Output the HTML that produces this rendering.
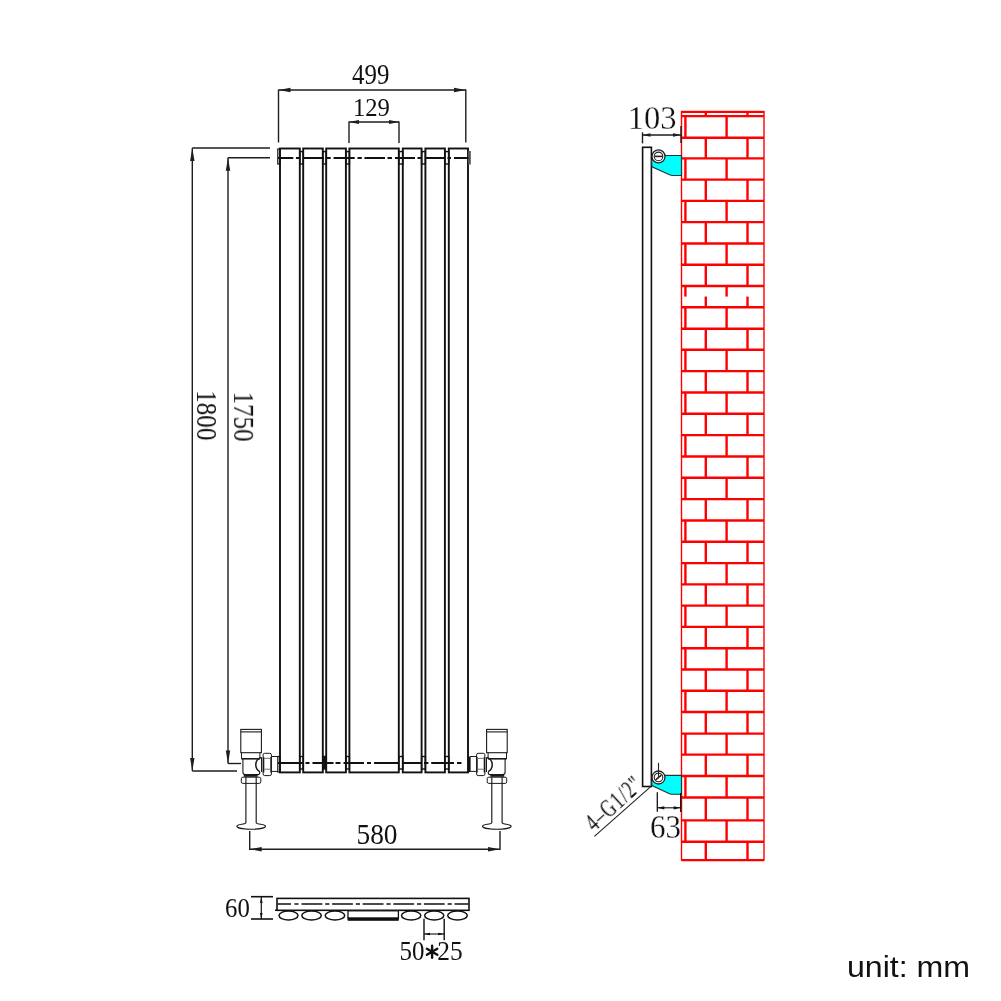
<!DOCTYPE html>
<html><head><meta charset="utf-8"><style>
html,body{margin:0;padding:0;background:#fff;width:1001px;height:1001px;overflow:hidden}
svg{display:block}
text{will-change:transform}
</style></head><body>
<svg width="1001" height="1001" viewBox="0 0 1001 1001">
<line x1="278.5" y1="90" x2="466" y2="90" stroke="#1e1e1e" stroke-width="1.4" />
<polygon points="278.5,90 290.50,87.80 290.50,92.20" fill="#1e1e1e"/>
<polygon points="466,90 454.00,92.20 454.00,87.80" fill="#1e1e1e"/>
<line x1="278.5" y1="89.5" x2="278.5" y2="142.5" stroke="#1e1e1e" stroke-width="1.4" />
<line x1="465.8" y1="89.5" x2="465.8" y2="142.5" stroke="#1e1e1e" stroke-width="1.4" />
<text transform="translate(352.10,83.90) scale(0.8698,1)" font-family="Liberation Serif" font-size="28.67" fill="#111">499</text>
<line x1="349" y1="122" x2="399" y2="122" stroke="#1e1e1e" stroke-width="1.4" />
<polygon points="349,122 359.00,120.00 359.00,124.00" fill="#1e1e1e"/>
<polygon points="399,122 389.00,124.00 389.00,120.00" fill="#1e1e1e"/>
<line x1="349" y1="121.5" x2="349" y2="143" stroke="#1e1e1e" stroke-width="1.4" />
<line x1="399" y1="121.5" x2="399" y2="143" stroke="#1e1e1e" stroke-width="1.4" />
<text transform="translate(353.00,116.20) scale(0.9511,1)" font-family="Liberation Serif" font-size="25.91" fill="#111">129</text>
<line x1="192.3" y1="148" x2="270" y2="148" stroke="#1e1e1e" stroke-width="1.4" />
<line x1="192.3" y1="148" x2="192.3" y2="771" stroke="#1e1e1e" stroke-width="1.4" />
<line x1="192.3" y1="771" x2="237" y2="771" stroke="#1e1e1e" stroke-width="1.4" />
<polygon points="192.3,148 194.50,161.00 190.10,161.00" fill="#1e1e1e"/>
<polygon points="192.3,771 190.10,758.00 194.50,758.00" fill="#1e1e1e"/>
<text transform="translate(197.00,390.20) rotate(90) scale(0.8685,1)" font-family="Liberation Serif" font-size="28.94" fill="#111">1800</text>
<line x1="228" y1="157.8" x2="270" y2="157.8" stroke="#1e1e1e" stroke-width="1.4" />
<line x1="228" y1="157.8" x2="228" y2="763.5" stroke="#1e1e1e" stroke-width="1.4" />
<line x1="228" y1="763.5" x2="241" y2="763.5" stroke="#1e1e1e" stroke-width="1.4" />
<polygon points="228,157.8 230.20,170.80 225.80,170.80" fill="#1e1e1e"/>
<polygon points="228,763.5 225.80,750.50 230.20,750.50" fill="#1e1e1e"/>
<text transform="translate(234.10,391.60) rotate(90) scale(0.8777,1)" font-family="Liberation Serif" font-size="28.55" fill="#111">1750</text>
<rect x="280" y="148.5" width="19.80000000000001" height="623.9" fill="none" stroke="#111" stroke-width="1.9"/>
<rect x="303.2" y="148.5" width="19.600000000000023" height="623.9" fill="none" stroke="#111" stroke-width="1.9"/>
<rect x="326.2" y="148.5" width="19.69999999999999" height="623.9" fill="none" stroke="#111" stroke-width="1.9"/>
<rect x="349.4" y="148.5" width="49.400000000000034" height="623.9" fill="none" stroke="#111" stroke-width="1.9"/>
<rect x="402.8" y="148.5" width="18.80000000000001" height="623.9" fill="none" stroke="#111" stroke-width="1.9"/>
<rect x="425.4" y="148.5" width="19.5" height="623.9" fill="none" stroke="#111" stroke-width="1.9"/>
<rect x="448.8" y="148.5" width="19.19999999999999" height="623.9" fill="none" stroke="#111" stroke-width="1.9"/>
<rect x="299.8" y="151.6" width="3.3999999999999773" height="12.400000000000006" fill="none" stroke="#111" stroke-width="1.4"/>
<rect x="299.8" y="756.5" width="3.3999999999999773" height="12.5" fill="none" stroke="#111" stroke-width="1.4"/>
<rect x="322.8" y="151.6" width="3.3999999999999773" height="12.400000000000006" fill="none" stroke="#111" stroke-width="1.4"/>
<rect x="322.8" y="756.5" width="3.3999999999999773" height="12.5" fill="none" stroke="#111" stroke-width="1.4"/>
<rect x="345.9" y="151.6" width="3.5" height="12.400000000000006" fill="none" stroke="#111" stroke-width="1.4"/>
<rect x="345.9" y="756.5" width="3.5" height="12.5" fill="none" stroke="#111" stroke-width="1.4"/>
<rect x="398.8" y="151.6" width="4.0" height="12.400000000000006" fill="none" stroke="#111" stroke-width="1.4"/>
<rect x="398.8" y="756.5" width="4.0" height="12.5" fill="none" stroke="#111" stroke-width="1.4"/>
<rect x="421.6" y="151.6" width="3.7999999999999545" height="12.400000000000006" fill="none" stroke="#111" stroke-width="1.4"/>
<rect x="421.6" y="756.5" width="3.7999999999999545" height="12.5" fill="none" stroke="#111" stroke-width="1.4"/>
<rect x="444.9" y="151.6" width="3.900000000000034" height="12.400000000000006" fill="none" stroke="#111" stroke-width="1.4"/>
<rect x="444.9" y="756.5" width="3.900000000000034" height="12.5" fill="none" stroke="#111" stroke-width="1.4"/>
<rect x="322.8" y="756.5" width="3.4" height="12.5" fill="#111"/>
<rect x="277.8" y="149" width="2.2" height="15" fill="none" stroke="#111" stroke-width="1.2"/>
<rect x="468" y="151" width="2.8" height="13.5" fill="#555"/>
<rect x="277.8" y="756.5" width="2.2" height="15.5" fill="none" stroke="#111" stroke-width="1.2"/>
<rect x="468" y="756.5" width="2.6" height="15.5" fill="#111"/>
<path d="M278,158H293.3 M295.9,158H300.3 M303,158H324 M326,158H330.7 M333.6,158H354.7 M357.5,158H361.8 M364.5,158H385 M387.5,158H392 M395,158H415 M417.5,158H421.5 M425,158H445 M447.5,158H451 M454,158H468.5" stroke="#111" stroke-width="1.9" fill="none"/>
<path d="M278,763H302.5 M305.5,763H309.5 M312.5,763H333.5 M335.5,763H340.5 M343.5,763H364 M367,763H371 M374,763H399 M403,763H421.6 M424,763H428.4 M431.2,763H454 M457,763H461.5" stroke="#111" stroke-width="1.9" fill="none"/>
<g transform="translate(251.2,0) scale(1,1)">
<rect x="-10.4" y="729.4" width="20.6" height="23.3" fill="#fff" stroke="#1a1a1a" stroke-width="1.1"/>
<line x1="-10.4" y1="731.9" x2="10.2" y2="731.9" stroke="#1a1a1a" stroke-width="1.1" />
<path d="M-9.7,752.7 L-9.7,758.8 M8.7,752.7 L8.7,758.8" stroke="#1a1a1a" stroke-width="1.0"/>
<line x1="-9.9" y1="758.8" x2="8.9" y2="758.8" stroke="#1a1a1a" stroke-width="1.6" />
<path d="M-8.3,758.8 L-8.3,772 Q-8.3,774.6 -6,774.6 L7,774.6 Q8.6,774.6 8.6,772" fill="none" stroke="#1a1a1a" stroke-width="1.1"/>
<path d="M9.8,757.4 C3.6,759.6 2.6,768.2 8.7,771.7" fill="none" stroke="#1a1a1a" stroke-width="1.5"/>
<line x1="10.3" y1="757.2" x2="10.3" y2="772" stroke="#1a1a1a" stroke-width="1.0" />
<rect x="-7.4" y="774.9" width="13.8" height="1.9" fill="#1a1a1a"/>
<rect x="-9.9" y="777.2" width="19.5" height="6.2" rx="1.6" fill="#fff" stroke="#1a1a1a" stroke-width="1.0"/>
<path d="M-5.3,777.2 L-5.3,822.6 Q-5.6,823.8 -9.5,824.3 Q-14.3,825 -14.3,826.2 A14.3,3.0 0 0 0 14.3,826.2 Q14.3,825 9.5,824.3 Q5.3,823.8 5.0,822.6 L5.0,777.2" fill="none" stroke="#1a1a1a" stroke-width="1.15"/>
<rect x="11.9" y="753.3" width="8.3" height="22.3" rx="1.6" fill="#fff" stroke="#1a1a1a" stroke-width="1.0"/>
<line x1="12.4" y1="757" x2="12.4" y2="772.5" stroke="#1a1a1a" stroke-width="1.4" />
<line x1="19.8" y1="757" x2="19.8" y2="772.5" stroke="#1a1a1a" stroke-width="1.4" />
<line x1="13" y1="758.4" x2="19.3" y2="758.4" stroke="#777" stroke-width="1.0" />
<line x1="13" y1="769.2" x2="19.3" y2="769.2" stroke="#777" stroke-width="1.0" />
<line x1="20.2" y1="756.5" x2="26.6" y2="756.5" stroke="#1a1a1a" stroke-width="1.0" />
<line x1="20.2" y1="771.4" x2="26.6" y2="771.4" stroke="#1a1a1a" stroke-width="1.0" />
</g>
<g transform="translate(496.8,0) scale(-1,1)">
<rect x="-10.4" y="729.4" width="20.6" height="23.3" fill="#fff" stroke="#1a1a1a" stroke-width="1.1"/>
<line x1="-10.4" y1="731.9" x2="10.2" y2="731.9" stroke="#1a1a1a" stroke-width="1.1" />
<path d="M-9.7,752.7 L-9.7,758.8 M8.7,752.7 L8.7,758.8" stroke="#1a1a1a" stroke-width="1.0"/>
<line x1="-9.9" y1="758.8" x2="8.9" y2="758.8" stroke="#1a1a1a" stroke-width="1.6" />
<path d="M-8.3,758.8 L-8.3,772 Q-8.3,774.6 -6,774.6 L7,774.6 Q8.6,774.6 8.6,772" fill="none" stroke="#1a1a1a" stroke-width="1.1"/>
<path d="M9.8,757.4 C3.6,759.6 2.6,768.2 8.7,771.7" fill="none" stroke="#1a1a1a" stroke-width="1.5"/>
<line x1="10.3" y1="757.2" x2="10.3" y2="772" stroke="#1a1a1a" stroke-width="1.0" />
<rect x="-7.4" y="774.9" width="13.8" height="1.9" fill="#1a1a1a"/>
<rect x="-9.9" y="777.2" width="19.5" height="6.2" rx="1.6" fill="#fff" stroke="#1a1a1a" stroke-width="1.0"/>
<path d="M-5.3,777.2 L-5.3,822.6 Q-5.6,823.8 -9.5,824.3 Q-14.3,825 -14.3,826.2 A14.3,3.0 0 0 0 14.3,826.2 Q14.3,825 9.5,824.3 Q5.3,823.8 5.0,822.6 L5.0,777.2" fill="none" stroke="#1a1a1a" stroke-width="1.15"/>
<rect x="11.9" y="753.3" width="8.3" height="22.3" rx="1.6" fill="#fff" stroke="#1a1a1a" stroke-width="1.0"/>
<line x1="12.4" y1="757" x2="12.4" y2="772.5" stroke="#1a1a1a" stroke-width="1.4" />
<line x1="19.8" y1="757" x2="19.8" y2="772.5" stroke="#1a1a1a" stroke-width="1.4" />
<line x1="13" y1="758.4" x2="19.3" y2="758.4" stroke="#777" stroke-width="1.0" />
<line x1="13" y1="769.2" x2="19.3" y2="769.2" stroke="#777" stroke-width="1.0" />
<line x1="20.2" y1="756.5" x2="26.6" y2="756.5" stroke="#1a1a1a" stroke-width="1.0" />
<line x1="20.2" y1="771.4" x2="26.6" y2="771.4" stroke="#1a1a1a" stroke-width="1.0" />
</g>
<line x1="249.7" y1="831" x2="249.7" y2="850" stroke="#1e1e1e" stroke-width="1.4" />
<line x1="500" y1="831" x2="500" y2="850" stroke="#1e1e1e" stroke-width="1.4" />
<line x1="249.7" y1="849.2" x2="500" y2="849.2" stroke="#1e1e1e" stroke-width="1.4" />
<polygon points="249.7,849.2 261.70,847.00 261.70,851.40" fill="#1e1e1e"/>
<polygon points="500,849.2 488.00,851.40 488.00,847.00" fill="#1e1e1e"/>
<text transform="translate(356.50,844.00) scale(0.9185,1)" font-family="Liberation Serif" font-size="29.78" fill="#111">580</text>
<line x1="251" y1="896.7" x2="273" y2="896.7" stroke="#111" stroke-width="1.6" />
<line x1="251" y1="919" x2="273" y2="919" stroke="#111" stroke-width="1.6" />
<line x1="261.3" y1="897" x2="261.3" y2="919" stroke="#111" stroke-width="1.2" />
<polygon points="261.3,897 262.60,903.00 260.00,903.00" fill="#111"/>
<polygon points="261.3,919 260.00,913.00 262.60,913.00" fill="#111"/>
<text transform="translate(225.00,917.40) scale(0.8739,1)" font-family="Liberation Serif" font-size="28.34" fill="#111">60</text>
<rect x="277" y="898.4" width="192" height="11.9" fill="none" stroke="#111" stroke-width="1.6"/>
<line x1="275" y1="910.3" x2="277" y2="910.3" stroke="#111" stroke-width="1.6" />
<path d="M277.5,904H291 M294.5,904H298.5 M301.5,904H322.3 M325.2,904H329.4 M332.1,904H352.90000000000003 M355.8,904H360.0 M362.7,904H383.5 M386.4,904H390.59999999999997 M393.3,904H414.1 M417.0,904H421.2 M423.9,904H444.7 M447.59999999999997,904H451.79999999999995 M454.5,904H468.5" stroke="#111" stroke-width="1.6" fill="none"/>
<ellipse cx="288.5" cy="915.5" rx="9.5" ry="4.4" fill="#fff" stroke="#111" stroke-width="1.5"/>
<ellipse cx="311.55" cy="915.5" rx="9.75" ry="4.4" fill="#fff" stroke="#111" stroke-width="1.5"/>
<ellipse cx="334.95" cy="915.5" rx="9.75" ry="4.4" fill="#fff" stroke="#111" stroke-width="1.5"/>
<ellipse cx="411.15" cy="915.5" rx="9.650000000000006" ry="4.4" fill="#fff" stroke="#111" stroke-width="1.5"/>
<ellipse cx="434.20000000000005" cy="915.5" rx="9.599999999999994" ry="4.4" fill="#fff" stroke="#111" stroke-width="1.5"/>
<ellipse cx="457.5" cy="915.5" rx="9.800000000000011" ry="4.4" fill="#fff" stroke="#111" stroke-width="1.5"/>
<rect x="348" y="910.8" width="50.4" height="8" fill="#fff" stroke="#111" stroke-width="1.3"/>
<rect x="347.7" y="917.3" width="51" height="3.5" fill="#111"/>
<line x1="424" y1="918.7" x2="424" y2="940.3" stroke="#111" stroke-width="1.4" />
<line x1="444.2" y1="918.7" x2="444.2" y2="940.3" stroke="#111" stroke-width="1.4" />
<line x1="424" y1="934" x2="444.2" y2="934" stroke="#111" stroke-width="1.1" />
<polygon points="424,934 430.00,932.80 430.00,935.20" fill="#111"/>
<polygon points="444.2,934 438.20,935.20 438.20,932.80" fill="#111"/>
<text transform="translate(399.50,959.90) scale(0.8913,1)" font-family="Liberation Serif" font-size="28.00" fill="#111">50</text>
<text transform="translate(437.30,959.90) scale(0.9064,1)" font-family="Liberation Serif" font-size="28.00" fill="#111">25</text>
<path d="M432.10,945.80 L432.10,957.80 M437.30,948.80 L426.90,954.80 M437.30,954.80 L426.90,948.80 " stroke="#111" stroke-width="2.4" stroke-linecap="round"/>
<rect x="681.5" y="111.5" width="82.5" height="748.5" fill="#fff" stroke="#ff0000" stroke-width="1.4"/>
<line x1="681.5" y1="111.9" x2="764" y2="111.9" stroke="#ff0000" stroke-width="2.0" />
<line x1="681.5" y1="116.1" x2="764" y2="116.1" stroke="#ff0000" stroke-width="2.4" />
<line x1="681.5" y1="137.7" x2="764" y2="137.7" stroke="#ff0000" stroke-width="2.4" />
<line x1="681.5" y1="158.4" x2="764" y2="158.4" stroke="#ff0000" stroke-width="2.4" />
<line x1="681.5" y1="179.66" x2="764" y2="179.66" stroke="#ff0000" stroke-width="2.4" />
<line x1="681.5" y1="200.91" x2="764" y2="200.91" stroke="#ff0000" stroke-width="2.4" />
<line x1="681.5" y1="222.17" x2="764" y2="222.17" stroke="#ff0000" stroke-width="2.4" />
<line x1="681.5" y1="243.43" x2="764" y2="243.43" stroke="#ff0000" stroke-width="2.4" />
<line x1="681.5" y1="264.69" x2="764" y2="264.69" stroke="#ff0000" stroke-width="2.4" />
<line x1="681.5" y1="285.94" x2="764" y2="285.94" stroke="#ff0000" stroke-width="2.4" />
<line x1="681.5" y1="307.2" x2="764" y2="307.2" stroke="#ff0000" stroke-width="2.4" />
<line x1="681.5" y1="328.8" x2="764" y2="328.8" stroke="#ff0000" stroke-width="2.4" />
<line x1="681.5" y1="349.8" x2="764" y2="349.8" stroke="#ff0000" stroke-width="2.4" />
<line x1="681.5" y1="371.14" x2="764" y2="371.14" stroke="#ff0000" stroke-width="2.4" />
<line x1="681.5" y1="392.48" x2="764" y2="392.48" stroke="#ff0000" stroke-width="2.4" />
<line x1="681.5" y1="413.81" x2="764" y2="413.81" stroke="#ff0000" stroke-width="2.4" />
<line x1="681.5" y1="435.15" x2="764" y2="435.15" stroke="#ff0000" stroke-width="2.4" />
<line x1="681.5" y1="456.49" x2="764" y2="456.49" stroke="#ff0000" stroke-width="2.4" />
<line x1="681.5" y1="477.82" x2="764" y2="477.82" stroke="#ff0000" stroke-width="2.4" />
<line x1="681.5" y1="499.16" x2="764" y2="499.16" stroke="#ff0000" stroke-width="2.4" />
<line x1="681.5" y1="520.5" x2="764" y2="520.5" stroke="#ff0000" stroke-width="2.4" />
<line x1="681.5" y1="541.8" x2="764" y2="541.8" stroke="#ff0000" stroke-width="2.4" />
<line x1="681.5" y1="563.1" x2="764" y2="563.1" stroke="#ff0000" stroke-width="2.4" />
<line x1="681.5" y1="584.37" x2="764" y2="584.37" stroke="#ff0000" stroke-width="2.4" />
<line x1="681.5" y1="605.64" x2="764" y2="605.64" stroke="#ff0000" stroke-width="2.4" />
<line x1="681.5" y1="626.91" x2="764" y2="626.91" stroke="#ff0000" stroke-width="2.4" />
<line x1="681.5" y1="648.19" x2="764" y2="648.19" stroke="#ff0000" stroke-width="2.4" />
<line x1="681.5" y1="669.46" x2="764" y2="669.46" stroke="#ff0000" stroke-width="2.4" />
<line x1="681.5" y1="690.73" x2="764" y2="690.73" stroke="#ff0000" stroke-width="2.4" />
<line x1="681.5" y1="712.0" x2="764" y2="712.0" stroke="#ff0000" stroke-width="2.4" />
<line x1="681.5" y1="733.6" x2="764" y2="733.6" stroke="#ff0000" stroke-width="2.4" />
<line x1="681.5" y1="754.6" x2="764" y2="754.6" stroke="#ff0000" stroke-width="2.4" />
<line x1="681.5" y1="776.05" x2="764" y2="776.05" stroke="#ff0000" stroke-width="2.4" />
<line x1="681.5" y1="797.5" x2="764" y2="797.5" stroke="#ff0000" stroke-width="2.4" />
<line x1="681.5" y1="820.4" x2="764" y2="820.4" stroke="#ff0000" stroke-width="2.4" />
<line x1="681.5" y1="841.8" x2="764" y2="841.8" stroke="#ff0000" stroke-width="2.4" />
<line x1="681.5" y1="860.1" x2="764" y2="860.1" stroke="#ff0000" stroke-width="2.4" />
<line x1="705.8" y1="111.6" x2="705.8" y2="116" stroke="#ff0000" stroke-width="2.4" />
<line x1="747.5" y1="111.6" x2="747.5" y2="116" stroke="#ff0000" stroke-width="2.4" />
<line x1="685.4" y1="116.1" x2="685.4" y2="137.7" stroke="#ff0000" stroke-width="2.4" />
<line x1="726.6" y1="116.1" x2="726.6" y2="137.7" stroke="#ff0000" stroke-width="2.4" />
<line x1="705.8" y1="137.7" x2="705.8" y2="158.4" stroke="#ff0000" stroke-width="2.4" />
<line x1="747.5" y1="137.7" x2="747.5" y2="158.4" stroke="#ff0000" stroke-width="2.4" />
<line x1="685.4" y1="158.4" x2="685.4" y2="179.66" stroke="#ff0000" stroke-width="2.4" />
<line x1="726.6" y1="158.4" x2="726.6" y2="179.66" stroke="#ff0000" stroke-width="2.4" />
<line x1="705.8" y1="179.66" x2="705.8" y2="200.91" stroke="#ff0000" stroke-width="2.4" />
<line x1="747.5" y1="179.66" x2="747.5" y2="200.91" stroke="#ff0000" stroke-width="2.4" />
<line x1="685.4" y1="200.91" x2="685.4" y2="222.17" stroke="#ff0000" stroke-width="2.4" />
<line x1="726.6" y1="200.91" x2="726.6" y2="222.17" stroke="#ff0000" stroke-width="2.4" />
<line x1="705.8" y1="222.17" x2="705.8" y2="243.43" stroke="#ff0000" stroke-width="2.4" />
<line x1="747.5" y1="222.17" x2="747.5" y2="243.43" stroke="#ff0000" stroke-width="2.4" />
<line x1="685.4" y1="243.43" x2="685.4" y2="264.69" stroke="#ff0000" stroke-width="2.4" />
<line x1="726.6" y1="243.43" x2="726.6" y2="264.69" stroke="#ff0000" stroke-width="2.4" />
<line x1="705.8" y1="264.69" x2="705.8" y2="285.94" stroke="#ff0000" stroke-width="2.4" />
<line x1="747.5" y1="264.69" x2="747.5" y2="285.94" stroke="#ff0000" stroke-width="2.4" />
<line x1="685.4" y1="285.9428571428572" x2="685.4" y2="296.57142857142856" stroke="#ff0000" stroke-width="2.4" />
<line x1="726.6" y1="285.9428571428572" x2="726.6" y2="296.57142857142856" stroke="#ff0000" stroke-width="2.4" />
<line x1="705.8" y1="296.57142857142856" x2="705.8" y2="307.2" stroke="#ff0000" stroke-width="2.4" />
<line x1="747.5" y1="296.57142857142856" x2="747.5" y2="307.2" stroke="#ff0000" stroke-width="2.4" />
<line x1="685.4" y1="307.2" x2="685.4" y2="328.8" stroke="#ff0000" stroke-width="2.4" />
<line x1="726.6" y1="307.2" x2="726.6" y2="328.8" stroke="#ff0000" stroke-width="2.4" />
<line x1="705.8" y1="328.8" x2="705.8" y2="349.8" stroke="#ff0000" stroke-width="2.4" />
<line x1="747.5" y1="328.8" x2="747.5" y2="349.8" stroke="#ff0000" stroke-width="2.4" />
<line x1="685.4" y1="349.8" x2="685.4" y2="371.14" stroke="#ff0000" stroke-width="2.4" />
<line x1="726.6" y1="349.8" x2="726.6" y2="371.14" stroke="#ff0000" stroke-width="2.4" />
<line x1="705.8" y1="371.14" x2="705.8" y2="392.48" stroke="#ff0000" stroke-width="2.4" />
<line x1="747.5" y1="371.14" x2="747.5" y2="392.48" stroke="#ff0000" stroke-width="2.4" />
<line x1="685.4" y1="392.48" x2="685.4" y2="413.81" stroke="#ff0000" stroke-width="2.4" />
<line x1="726.6" y1="392.48" x2="726.6" y2="413.81" stroke="#ff0000" stroke-width="2.4" />
<line x1="705.8" y1="413.81" x2="705.8" y2="435.15" stroke="#ff0000" stroke-width="2.4" />
<line x1="747.5" y1="413.81" x2="747.5" y2="435.15" stroke="#ff0000" stroke-width="2.4" />
<line x1="685.4" y1="435.15" x2="685.4" y2="456.49" stroke="#ff0000" stroke-width="2.4" />
<line x1="726.6" y1="435.15" x2="726.6" y2="456.49" stroke="#ff0000" stroke-width="2.4" />
<line x1="705.8" y1="456.49" x2="705.8" y2="477.82" stroke="#ff0000" stroke-width="2.4" />
<line x1="747.5" y1="456.49" x2="747.5" y2="477.82" stroke="#ff0000" stroke-width="2.4" />
<line x1="685.4" y1="477.82" x2="685.4" y2="499.16" stroke="#ff0000" stroke-width="2.4" />
<line x1="726.6" y1="477.82" x2="726.6" y2="499.16" stroke="#ff0000" stroke-width="2.4" />
<line x1="705.8" y1="499.16" x2="705.8" y2="520.5" stroke="#ff0000" stroke-width="2.4" />
<line x1="747.5" y1="499.16" x2="747.5" y2="520.5" stroke="#ff0000" stroke-width="2.4" />
<line x1="685.4" y1="520.5" x2="685.4" y2="541.8" stroke="#ff0000" stroke-width="2.4" />
<line x1="726.6" y1="520.5" x2="726.6" y2="541.8" stroke="#ff0000" stroke-width="2.4" />
<line x1="705.8" y1="541.8" x2="705.8" y2="563.1" stroke="#ff0000" stroke-width="2.4" />
<line x1="747.5" y1="541.8" x2="747.5" y2="563.1" stroke="#ff0000" stroke-width="2.4" />
<line x1="685.4" y1="563.1" x2="685.4" y2="584.37" stroke="#ff0000" stroke-width="2.4" />
<line x1="726.6" y1="563.1" x2="726.6" y2="584.37" stroke="#ff0000" stroke-width="2.4" />
<line x1="705.8" y1="584.37" x2="705.8" y2="605.64" stroke="#ff0000" stroke-width="2.4" />
<line x1="747.5" y1="584.37" x2="747.5" y2="605.64" stroke="#ff0000" stroke-width="2.4" />
<line x1="685.4" y1="605.64" x2="685.4" y2="626.91" stroke="#ff0000" stroke-width="2.4" />
<line x1="726.6" y1="605.64" x2="726.6" y2="626.91" stroke="#ff0000" stroke-width="2.4" />
<line x1="705.8" y1="626.91" x2="705.8" y2="648.19" stroke="#ff0000" stroke-width="2.4" />
<line x1="747.5" y1="626.91" x2="747.5" y2="648.19" stroke="#ff0000" stroke-width="2.4" />
<line x1="685.4" y1="648.19" x2="685.4" y2="669.46" stroke="#ff0000" stroke-width="2.4" />
<line x1="726.6" y1="648.19" x2="726.6" y2="669.46" stroke="#ff0000" stroke-width="2.4" />
<line x1="705.8" y1="669.46" x2="705.8" y2="690.73" stroke="#ff0000" stroke-width="2.4" />
<line x1="747.5" y1="669.46" x2="747.5" y2="690.73" stroke="#ff0000" stroke-width="2.4" />
<line x1="685.4" y1="690.73" x2="685.4" y2="712.0" stroke="#ff0000" stroke-width="2.4" />
<line x1="726.6" y1="690.73" x2="726.6" y2="712.0" stroke="#ff0000" stroke-width="2.4" />
<line x1="705.8" y1="712.0" x2="705.8" y2="733.6" stroke="#ff0000" stroke-width="2.4" />
<line x1="747.5" y1="712.0" x2="747.5" y2="733.6" stroke="#ff0000" stroke-width="2.4" />
<line x1="685.4" y1="733.6" x2="685.4" y2="754.6" stroke="#ff0000" stroke-width="2.4" />
<line x1="726.6" y1="733.6" x2="726.6" y2="754.6" stroke="#ff0000" stroke-width="2.4" />
<line x1="705.8" y1="754.6" x2="705.8" y2="776.05" stroke="#ff0000" stroke-width="2.4" />
<line x1="747.5" y1="754.6" x2="747.5" y2="776.05" stroke="#ff0000" stroke-width="2.4" />
<line x1="685.4" y1="776.05" x2="685.4" y2="797.5" stroke="#ff0000" stroke-width="2.4" />
<line x1="726.6" y1="776.05" x2="726.6" y2="797.5" stroke="#ff0000" stroke-width="2.4" />
<line x1="705.8" y1="797.5" x2="705.8" y2="820.4" stroke="#ff0000" stroke-width="2.4" />
<line x1="747.5" y1="797.5" x2="747.5" y2="820.4" stroke="#ff0000" stroke-width="2.4" />
<line x1="685.4" y1="820.4" x2="685.4" y2="841.8" stroke="#ff0000" stroke-width="2.4" />
<line x1="726.6" y1="820.4" x2="726.6" y2="841.8" stroke="#ff0000" stroke-width="2.4" />
<line x1="705.8" y1="841.8" x2="705.8" y2="860" stroke="#ff0000" stroke-width="2.4" />
<line x1="747.5" y1="841.8" x2="747.5" y2="860" stroke="#ff0000" stroke-width="2.4" />
<rect x="642.6" y="147.3" width="8.8" height="639.2" fill="none" stroke="#111" stroke-width="1.6"/>
<path d="M660,155.5 L681.4,155.5 L681.4,175.5 L673,175.5 Q671,175.5 669,174.6 L652,166.8 L651.6,160.4 Z" fill="#00ffff" stroke="#1a3a3a" stroke-width="1.1"/>
<circle cx="658.5" cy="156.4" r="6.5" fill="#fff" stroke="#222" stroke-width="1.3"/>
<circle cx="658.5" cy="156.4" r="4.3" fill="#fff" stroke="#222" stroke-width="1.1"/>
<line x1="654.8" y1="156.4" x2="662.2" y2="156.4" stroke="#222" stroke-width="1.6" />
<path d="M660,775.4 L681.4,775.4 L681.4,794.3 L673,794.3 Q671,794.3 669,793.4 L652,785.5999999999999 L651.6,781.5 Z" fill="#00ffff" stroke="#1a3a3a" stroke-width="1.1"/>
<circle cx="658.5" cy="777.5" r="6.5" fill="#fff" stroke="#222" stroke-width="1.3"/>
<circle cx="658.5" cy="777.5" r="4.3" fill="#fff" stroke="#222" stroke-width="1.1"/>
<line x1="655.6" y1="779.9" x2="661.4" y2="775.1" stroke="#222" stroke-width="1.5" />
<line x1="658.5" y1="762.8" x2="658.5" y2="777.5" stroke="#222" stroke-width="1.1" />
<line x1="642.5" y1="132.3" x2="642.5" y2="143.4" stroke="#1e1e1e" stroke-width="1.4" />
<line x1="681" y1="126" x2="681" y2="143" stroke="#1e1e1e" stroke-width="1.4" />
<line x1="642.5" y1="135" x2="681" y2="135" stroke="#1e1e1e" stroke-width="1.4" />
<polygon points="642.5,135 650.50,133.30 650.50,136.70" fill="#1e1e1e"/>
<polygon points="681,135 673.00,136.70 673.00,133.30" fill="#1e1e1e"/>
<text transform="translate(627.80,129.40) scale(0.9698,1)" font-family="Liberation Serif" font-size="33.56" fill="#111" stroke="#fff" stroke-width="0.25">103</text>
<line x1="657.3" y1="792.2" x2="657.3" y2="811.7" stroke="#111" stroke-width="1.3" />
<line x1="680.7" y1="793" x2="680.7" y2="812" stroke="#111" stroke-width="1.3" />
<line x1="657.3" y1="807.8" x2="680.7" y2="807.8" stroke="#111" stroke-width="1.1" />
<polygon points="657.3,807.8 664.30,806.20 664.30,809.40" fill="#111"/>
<polygon points="680.7,807.8 673.70,809.40 673.70,806.20" fill="#111"/>
<text transform="translate(649.90,838.00) scale(0.9312,1)" font-family="Liberation Serif" font-size="33.30" fill="#111" stroke="#fff" stroke-width="0.25">63</text>
<line x1="594.4" y1="836.3" x2="651" y2="786.4" stroke="#222" stroke-width="1.1" />
<text transform="translate(594.3,832.3) rotate(-42.3) scale(0.72,1)" font-family="Liberation Serif" font-size="24.8" letter-spacing="1.4" fill="#111">4&#8211;G1/2&quot;</text>
<text transform="translate(847.0,976.8) scale(1.10,1)" font-family="Liberation Sans" font-size="29.2" fill="#111">unit: mm</text>
</svg>
</body></html>
